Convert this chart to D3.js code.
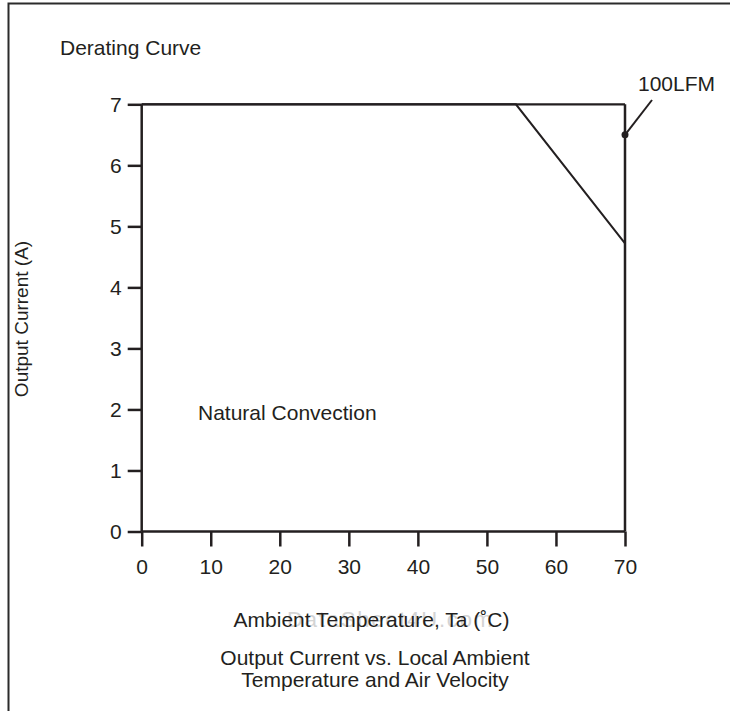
<!DOCTYPE html>
<html>
<head>
<meta charset="utf-8">
<script src="https://cdn.jsdelivr.net/npm/d3@7"></script>
<style>
  html, body { margin: 0; padding: 0; background: #fff; }
  svg { display: block; }
  text { font-family: "Liberation Sans", Arial, Helvetica, sans-serif; fill: #231f20; }
</style>
</head>
<body>
<svg id="chart" width="730" height="711"></svg>
<script>
// ---- data ----
const xTickValues = [0, 10, 20, 30, 40, 50, 60, 70];
const yTickValues = [0, 1, 2, 3, 4, 5, 6, 7];
const naturalConvectionTemp = [0, 54.2, 70];
const naturalConvectionCurrent = [7, 7, 4.72];
const lfm100Temp = [0, 70];
const lfm100Current = [7, 7];
const lfmMarkerPoint = [70, 6.5];
const titleText = "Derating Curve";
const xTitle = "Ambient Temperature, Ta (˚C)";
const yTitle = "Output Current (A)";
const captionLines = ["Output Current vs. Local Ambient", "Temperature and Air Velocity"];
const lfmLabel = "100LFM";
const ncLabel = "Natural Convection";
const watermark = "DataSheet4U.com";

// ---- layout ----
const svg = d3.select("#chart");
const ink = "#231f20";
const fs = 21;
const x = d3.scaleLinear().domain([0, 70]).range([141.7, 625]);
const y = d3.scaleLinear().domain([0, 7]).range([531.5, 104.3]);

// outer frame (top + left)
svg.append("path")
  .attr("d", "M8.5,711 L8.5,3.5 L730,3.5")
  .attr("fill", "none").attr("stroke", "#2b2b2b").attr("stroke-width", 2);

// axes
const xAxis = d3.axisBottom(x).tickValues(xTickValues).tickFormat(d3.format("d"))
  .tickSize(15).tickSizeOuter(0).tickPadding(13);
const gx = svg.append("g").attr("transform", `translate(0,${y(0)})`).call(xAxis);
gx.select(".domain").remove();
gx.selectAll(".tick line").attr("stroke", ink).attr("stroke-width", 2.5);
gx.selectAll(".tick text").attr("font-size", fs).attr("fill", ink)
  .style("font-family", '"Liberation Sans", Arial, sans-serif');

const yAxis = d3.axisLeft(y).tickValues(yTickValues).tickFormat(d3.format("d"))
  .tickSize(14).tickSizeOuter(0).tickPadding(6);
const gy = svg.append("g").attr("transform", `translate(${x(0)},0)`).call(yAxis);
gy.select(".domain").remove();
gy.selectAll(".tick line").attr("stroke", ink).attr("stroke-width", 2.5);
gy.selectAll(".tick text").attr("font-size", fs).attr("fill", ink)
  .style("font-family", '"Liberation Sans", Arial, sans-serif');

// axis lines
svg.append("line").attr("x1", x(0)).attr("x2", x(70)).attr("y1", y(0)).attr("y2", y(0))
  .attr("stroke", ink).attr("stroke-width", 2.5);
svg.append("line").attr("x1", x(0)).attr("x2", x(0)).attr("y1", y(7)).attr("y2", y(0))
  .attr("stroke", ink).attr("stroke-width", 2.5);
svg.append("line").attr("x1", x(70)).attr("x2", x(70)).attr("y1", y(7)).attr("y2", y(0))
  .attr("stroke", ink).attr("stroke-width", 2.5);

// curves
const line = d3.line().x(d => x(d[0])).y(d => y(d[1]));
svg.append("path")
  .datum(lfm100Temp.map((t, i) => [t, lfm100Current[i]]))
  .attr("d", line).attr("fill", "none").attr("stroke", ink).attr("stroke-width", 2.2);
svg.append("path")
  .datum(naturalConvectionTemp.map((t, i) => [t, naturalConvectionCurrent[i]]))
  .attr("d", line).attr("fill", "none").attr("stroke", ink).attr("stroke-width", 2);

// 100LFM marker & leader
svg.append("circle").attr("cx", x(lfmMarkerPoint[0])).attr("cy", y(lfmMarkerPoint[1]))
  .attr("r", 3.5).attr("fill", ink);
svg.append("line").attr("x1", x(lfmMarkerPoint[0])).attr("y1", y(lfmMarkerPoint[1]))
  .attr("x2", 652).attr("y2", 100).attr("stroke", ink).attr("stroke-width", 2);
svg.append("text").attr("x", 638).attr("y", 91).attr("font-size", fs).text(lfmLabel);

// labels
svg.append("text").attr("x", 60).attr("y", 55).attr("font-size", fs).text(titleText);
svg.append("text").attr("x", 198).attr("y", 420).attr("font-size", fs).text(ncLabel);

svg.append("text")
  .attr("transform", `translate(28,319) rotate(-90)`)
  .attr("text-anchor", "middle").attr("font-size", 19).text(yTitle);

// watermark (faint, behind the axis title as in the source scan)
svg.append("text").attr("x", 287).attr("y", 627).attr("font-size", fs + 1)
  .attr("textLength", 205).attr("lengthAdjust", "spacing")
  .style("fill", "#d4d4d4").text(watermark);

svg.append("text").attr("x", 371.5).attr("y", 627).attr("text-anchor", "middle")
  .attr("font-size", fs).text(xTitle);

captionLines.forEach((t, i) => {
  svg.append("text").attr("x", 375).attr("y", 665 + i * 21.7).attr("text-anchor", "middle")
    .attr("font-size", fs).text(t);
});
</script>
</body>
</html>
